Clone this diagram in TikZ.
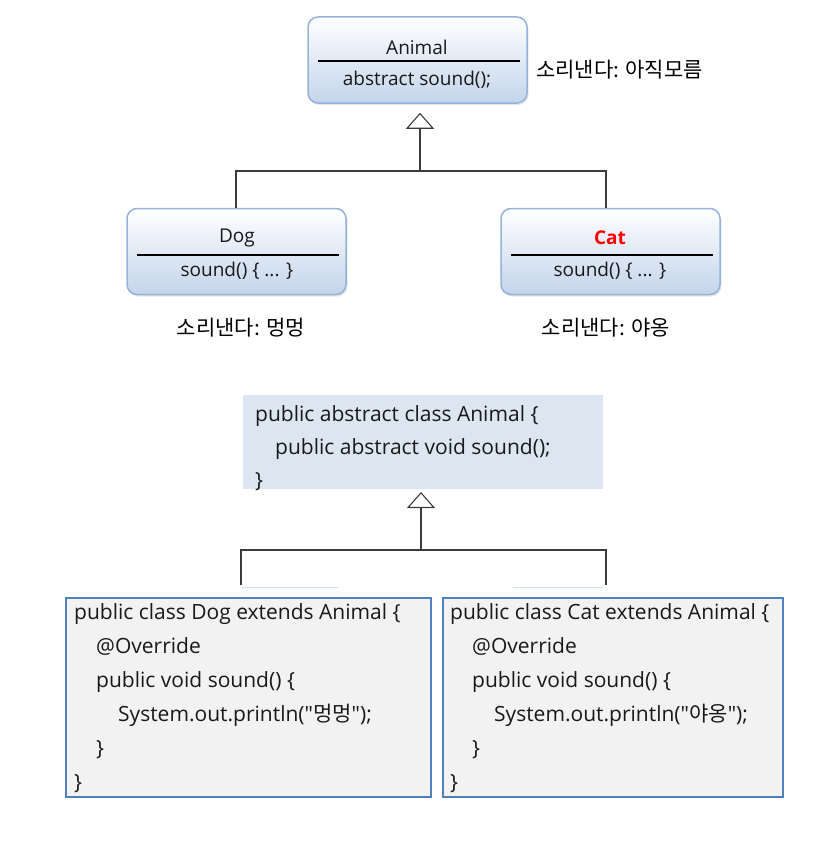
\documentclass[tikz,border=0pt]{standalone}
\usepackage{fontspec}
\setmainfont{Open Sans}
\newfontfamily\krfont{Noto Sans CJK KR}
\usetikzlibrary{arrows.meta,shadows}
\definecolor{umlborder}{HTML}{95B3D7}
\definecolor{umlbottom}{HTML}{C3D4EB}
\definecolor{codeblue}{HTML}{DCE6F1}
\definecolor{codegray}{HTML}{F2F2F2}
\definecolor{codeedge}{HTML}{4F81BD}
\definecolor{linkgray}{HTML}{3C3C3C}
\tikzset{
  umlbox/.style={draw=umlborder, line width=1.5pt, rounded corners=10pt,
    top color=white, bottom color=umlbottom, minimum width=219pt, minimum height=86pt,
    drop shadow={shadow xshift=1.5pt, shadow yshift=-2pt, opacity=0.2}},
  umltext/.style={font=\fontsize{19}{22}\selectfont, text=black!90, inner sep=0pt},
  saytext/.style={font=\krfont\fontsize{21}{24}\selectfont, text=black, inner sep=0pt},
  codetext/.style={font=\fontsize{21}{34}\selectfont, text=black!90, align=left, inner sep=0pt, anchor=north west},
  codebox/.style={draw=codeedge, line width=2pt, fill=codegray},
  conn/.style={draw=linkgray, line width=1.3pt},
  inherit/.style={conn, -{Triangle[open, length=16pt, width=28pt, line width=1.1pt]}}
}
\begin{document}
\begin{tikzpicture}[x=1pt,y=-1pt]
\useasboundingbox (0,0) rectangle (840,851);
% class diagram
\node[umlbox] (animal) at (417.5,60) {};
\node[umltext] (animaltitle) at (417,47) {Animal};
\draw[line width=1.3pt] (318,61) -- (520,61);
\node[umltext] (animalbody) at (417,80) {abstract sound();};
\node[saytext, anchor=west] (animalsay) at (536,70) {소리낸다: 아직모름};

\node[umlbox] (dog) at (236.5,251.5) {};
\node[umltext] (dogtitle) at (237,238) {Dog};
\draw[line width=1.3pt] (137,255) -- (339,255);
\node[umltext] (dogbody) at (237,271) {sound() \{ ... \}};
\node[saytext] (dogsay) at (241,328) {소리낸다: 멍멍};

\node[umlbox] (cat) at (610.5,251.5) {};
\node[umltext, text=red, font=\fontsize{19}{22}\selectfont\bfseries] (cattitle) at (610,238) {Cat};
\draw[line width=1.3pt] (511,255) -- (713,255);
\node[umltext] (catbody) at (610,271) {sound() \{ ... \}};
\node[saytext] (catsay) at (606,328) {소리낸다: 야옹};

\coordinate (upbus) at (420,171);
\coordinate (dogup) at (236,208);
\coordinate (catup) at (606,208);
\draw[conn] (dogup) |- (upbus) -| (catup);
\draw[inherit, shorten >=9pt] (upbus) -- (upbus |- animal.south);

% java code
\fill[codeblue] (243,395) rectangle (603,489);
\coordinate (animalcode) at (421,489);
\node[codetext, font=\fontsize{21}{33}\selectfont] (animaltext) at (255,405) {public abstract class Animal \{\\
\hspace*{20pt}public abstract void sound();\\
\}};

\draw[codebox] (66,598) rectangle (431,797);
\node[codetext] (dogtext) at (74,603) {public class Dog extends Animal \{\\
\hspace*{22pt}@Override\\
\hspace*{22pt}public void sound() \{\\
\hspace*{44pt}System.out.println(\textquotedbl{\krfont 멍멍}\textquotedbl);\\
\hspace*{22pt}\}\\
\}};

\draw[codebox] (443,598) rectangle (783,797);
\node[codetext] (cattext) at (450,603) {public class Cat extends Animal \{\\
\hspace*{22pt}@Override\\
\hspace*{22pt}public void sound() \{\\
\hspace*{44pt}System.out.println(\textquotedbl{\krfont 야옹}\textquotedbl);\\
\hspace*{22pt}\}\\
\}};

\coordinate (lowbus) at (421,550);
\coordinate (dogcodeup) at (241,585);
\coordinate (catcodeup) at (606,585);
\draw[conn] (dogcodeup) |- (lowbus) -| (catcodeup);
\draw[inherit, shorten >=3pt] (lowbus) -- (animalcode);
\draw[umlborder!45, line width=1pt] (242,587) -- (338,587) (513,587) -- (603,587);
\end{tikzpicture}
\end{document}
